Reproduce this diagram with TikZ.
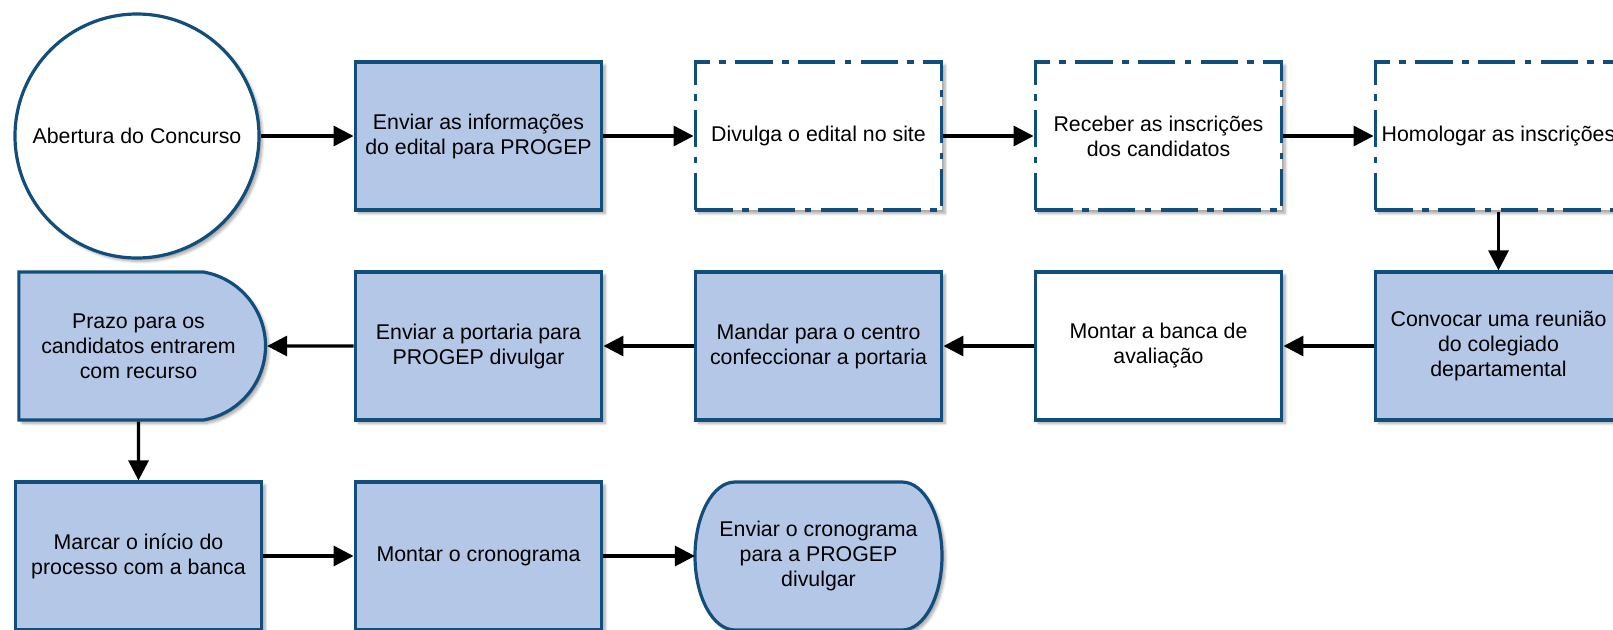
\documentclass[tikz,border=0pt]{standalone}
\usepackage{fontspec}
\setmainfont{Liberation Sans}
\usetikzlibrary{shapes.misc, shadows.blur, arrows.meta}
\definecolor{edgeblue}{HTML}{114E7B}
\definecolor{fillblue}{HTML}{B4C7E7}

\begin{document}
\begin{tikzpicture}[x=0.75pt, y=-0.75pt,
        every node/.style={font=\fontsize{16}{18.75}\selectfont, align=center},
        base/.style={draw=edgeblue, line width=2.4pt, inner sep=0pt,
            blur shadow={shadow xshift=2.5pt, shadow yshift=-2.5pt, shadow blur steps=6, shadow opacity=35}},
        task/.style={base, rectangle, minimum width=185pt, minimum height=111pt},
        bluetask/.style={task, fill=fillblue},
        whitetask/.style={task, fill=white},
        webtask/.style={whitetask, dash pattern=on 28pt off 7pt on 5pt off 7pt},
        startnode/.style={base, circle, fill=white, minimum size=183pt},
        delay/.style={base, rounded rectangle, rounded rectangle left arc=none, rounded rectangle arc length=160,
            fill=fillblue, minimum width=185pt, minimum height=111pt},
        endnode/.style={rectangle, inner sep=0pt, minimum width=185pt, minimum height=111pt},
        flow/.style={line width=2.4pt, fill opacity=1, draw opacity=1, -{Triangle[length=15pt, width=15pt]}}
    ]
            \useasboundingbox (0, 0) rectangle (1613, 629);
            \clip (0, 0) rectangle (1613, 629);
            % first row
            \node[startnode] (inicio) at (137, 136) {Abertura do Concurso};
            \node[bluetask] (infoprogep) at (478.5, 136) {Enviar as informações\\do edital para PROGEP};
            \node[webtask] (divulga) at (818.5, 136) {Divulga o edital no site};
            \node[webtask] (inscricoes) at (1158.5, 136) {Receber as inscrições\\dos candidatos};
            \node[webtask] (homologar) at (1498.5, 136) {Homologar as inscrições};
            % second row
            \node[bluetask] (convocar) at (1498.5, 346) {Convocar uma reunião\\do colegiado\\departamental};
            \node[whitetask] (banca) at (1158.5, 346) {Montar a banca de\\avaliação};
            \node[bluetask] (centro) at (818.5, 346) {Mandar para o centro\\confeccionar a portaria};
            \node[bluetask] (portaria) at (478.5, 346) {Enviar a portaria para\\PROGEP divulgar};
            \node[delay] (prazo) at (138.5, 346) {Prazo para os\\candidatos entrarem\\com recurso};
            % third row
            \node[bluetask] (marcar) at (138.5, 556) {Marcar o início do\\processo com a banca};
            \node[bluetask] (cronograma) at (478.5, 556) {Montar o cronograma};
            % terminator with elliptic ends
            \begin{scope}
                \draw[base, fill=fillblue] (735, 482) -- (902, 482)
                    arc[start angle=90, end angle=-90, x radius=30pt, y radius=55.5pt]
                    -- (735, 630)
                    arc[start angle=270, end angle=90, x radius=30pt, y radius=55.5pt] -- cycle;
            \end{scope}
            \node[endnode] (envcronograma) at (818.5, 556) {Enviar o cronograma\\para a PROGEP\\divulgar};
            \foreach \a/\b in {inicio/infoprogep, infoprogep/divulga, divulga/inscricoes, inscricoes/homologar,
                homologar/convocar, convocar/banca, banca/centro, centro/portaria, portaria/prazo,
                prazo/marcar, marcar/cronograma, cronograma/envcronograma} {
                \draw[flow] (\a) -- (\b);
            }
        \end{tikzpicture}
\end{document}
